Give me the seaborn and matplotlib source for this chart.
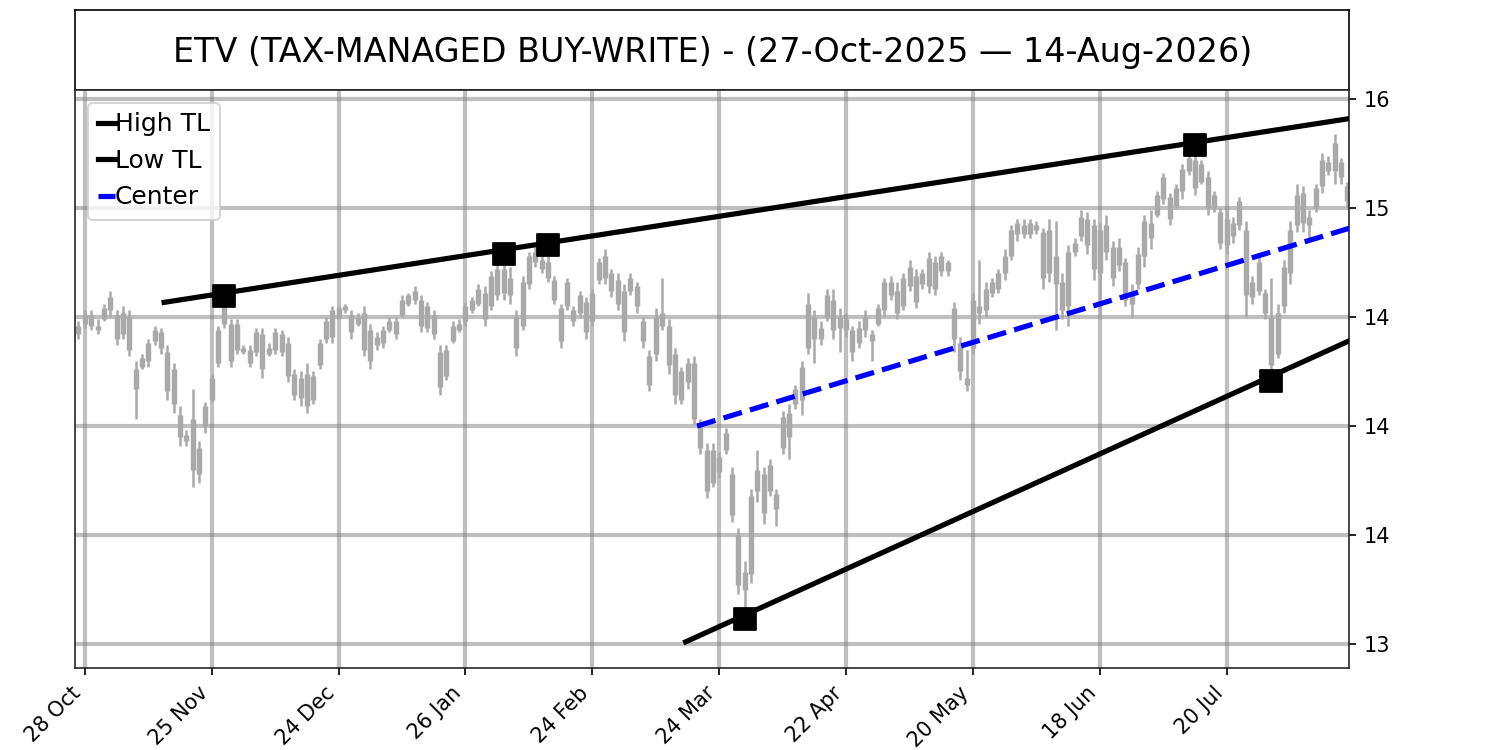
import numpy as np
import pandas as pd
import matplotlib
matplotlib.use("Agg")
import matplotlib.pyplot as plt
import seaborn as sns
from matplotlib.lines import Line2D

# Daily OHLC, 27-Oct-2025 .. 14-Aug-2026 (201 trading days)
opens = [
    14.42, 14.47, 14.51, 14.46, 14.49, 14.53, 14.51, 14.42, 14.50, 14.26,
    14.27, 14.30, 14.39, 14.43, 14.34, 14.26, 14.05, 13.96, 14.03, 13.78,
    14.00, 14.12, 14.29, 14.47, 14.47, 14.35, 14.36, 14.29, 14.34, 14.42,
    14.33, 14.35, 14.42, 14.38, 14.24, 14.13, 14.24, 14.12, 14.28, 14.40,
    14.41, 14.50, 14.53, 14.51, 14.47, 14.52, 14.30, 14.41, 14.38, 14.44,
    14.48, 14.51, 14.56, 14.58, 14.58, 14.45, 14.51, 14.34, 14.23, 14.39,
    14.44, 14.48, 14.53, 14.56, 14.61, 14.55, 14.60, 14.72, 14.68, 14.50,
    14.46, 14.65, 14.75, 14.76, 14.75, 14.67, 14.54, 14.55, 14.53, 14.52,
    14.57, 14.48, 14.67, 14.78, 14.70, 14.67, 14.62, 14.62, 14.64, 14.48,
    14.32, 14.33, 14.52, 14.46, 14.33, 14.12, 14.20, 14.29, 14.01, 13.89,
    13.74, 13.86, 13.89, 13.78, 13.50, 13.25, 13.32, 13.70, 13.78, 13.70,
    13.69, 13.90, 14.06, 14.10, 14.12, 14.36, 14.50, 14.45, 14.50, 14.58,
    14.45, 14.49, 14.44, 14.38, 14.44, 14.42, 14.47, 14.53, 14.66, 14.62,
    14.55, 14.64, 14.69, 14.65, 14.64, 14.75, 14.71, 14.75, 14.54, 14.38,
    14.22, 14.36, 14.55, 14.53, 14.61, 14.63, 14.70, 14.78, 14.88, 14.92,
    14.88, 14.92, 14.89, 14.70, 14.78, 14.66, 14.55, 14.80, 14.87, 14.95,
    14.92, 14.70, 14.92, 14.82, 14.74, 14.75, 14.56, 14.65, 14.78, 14.93,
    14.97, 15.04, 15.05, 15.01, 15.08, 15.17, 15.22, 15.12, 15.14, 15.00,
    14.98, 14.83, 14.93, 14.92, 14.90, 14.66, 14.62, 14.61, 14.50, 14.33,
    14.55, 14.70, 14.92, 15.07, 14.92, 15.00, 15.10, 15.21, 15.17, 15.21,
    15.10,
]
highs = [
    14.48, 14.53, 14.53, 14.49, 14.56, 14.62, 14.53, 14.55, 14.53, 14.30,
    14.33, 14.40, 14.46, 14.45, 14.37, 14.29, 14.09, 13.98, 14.17, 13.93,
    14.11, 14.24, 14.46, 14.59, 14.49, 14.49, 14.37, 14.37, 14.45, 14.45,
    14.38, 14.45, 14.44, 14.41, 14.26, 14.25, 14.29, 14.25, 14.40, 14.50,
    14.55, 14.55, 14.56, 14.53, 14.52, 14.55, 14.47, 14.43, 14.46, 14.50,
    14.50, 14.60, 14.61, 14.64, 14.60, 14.57, 14.53, 14.37, 14.37, 14.48,
    14.49, 14.57, 14.59, 14.65, 14.64, 14.71, 14.75, 14.79, 14.73, 14.53,
    14.69, 14.80, 14.82, 14.78, 14.83, 14.69, 14.56, 14.68, 14.55, 14.62,
    14.59, 14.63, 14.77, 14.81, 14.72, 14.70, 14.65, 14.70, 14.66, 14.50,
    14.35, 14.54, 14.68, 14.49, 14.36, 14.27, 14.31, 14.32, 14.03, 13.92,
    13.92, 13.88, 13.99, 13.81, 13.53, 13.38, 13.71, 13.89, 13.81, 13.85,
    13.71, 14.07, 14.10, 14.19, 14.30, 14.61, 14.53, 14.48, 14.63, 14.63,
    14.54, 14.52, 14.46, 14.48, 14.53, 14.44, 14.56, 14.68, 14.69, 14.66,
    14.70, 14.76, 14.72, 14.72, 14.80, 14.78, 14.80, 14.76, 14.57, 14.41,
    14.35, 14.61, 14.76, 14.66, 14.68, 14.72, 14.81, 14.92, 14.95, 14.95,
    14.95, 14.94, 14.91, 14.95, 14.94, 14.70, 14.83, 14.86, 14.99, 14.98,
    14.95, 14.93, 14.97, 14.85, 14.86, 14.77, 14.65, 14.82, 14.97, 14.99,
    15.08, 15.16, 15.07, 15.11, 15.20, 15.25, 15.29, 15.22, 15.17, 15.08,
    15.00, 14.99, 14.96, 15.05, 14.94, 14.69, 14.79, 14.63, 14.68, 14.56,
    14.76, 14.94, 15.11, 15.10, 14.99, 15.11, 15.25, 15.24, 15.34, 15.23,
    15.12,
]
lows = [
    14.40, 14.45, 14.44, 14.42, 14.48, 14.50, 14.37, 14.40, 14.32, 14.03,
    14.26, 14.27, 14.37, 14.33, 14.12, 14.06, 13.91, 13.91, 13.72, 13.74,
    13.97, 14.11, 14.27, 14.45, 14.27, 14.33, 14.33, 14.27, 14.32, 14.22,
    14.32, 14.33, 14.32, 14.20, 14.12, 14.09, 14.06, 14.10, 14.26, 14.38,
    14.38, 14.49, 14.52, 14.40, 14.46, 14.32, 14.26, 14.35, 14.36, 14.43,
    14.40, 14.50, 14.55, 14.56, 14.43, 14.43, 14.40, 14.14, 14.21, 14.38,
    14.43, 14.46, 14.52, 14.55, 14.46, 14.53, 14.58, 14.58, 14.56, 14.32,
    14.44, 14.63, 14.73, 14.70, 14.66, 14.56, 14.36, 14.53, 14.46, 14.50,
    14.40, 14.46, 14.65, 14.65, 14.59, 14.53, 14.39, 14.60, 14.52, 14.36,
    14.16, 14.30, 14.44, 14.24, 14.10, 14.10, 14.17, 14.01, 13.87, 13.67,
    13.72, 13.76, 13.87, 13.56, 13.23, 13.115, 13.28, 13.65, 13.55, 13.68,
    13.54, 13.87, 13.85, 14.08, 14.05, 14.33, 14.29, 14.37, 14.48, 14.40,
    14.34, 14.41, 14.30, 14.36, 14.41, 14.30, 14.46, 14.50, 14.58, 14.49,
    14.53, 14.62, 14.54, 14.63, 14.61, 14.60, 14.69, 14.69, 14.34, 14.21,
    14.16, 14.33, 14.47, 14.50, 14.59, 14.61, 14.67, 14.76, 14.85, 14.86,
    14.86, 14.88, 14.63, 14.66, 14.44, 14.49, 14.46, 14.78, 14.85, 14.79,
    14.67, 14.49, 14.76, 14.64, 14.71, 14.55, 14.50, 14.63, 14.73, 14.81,
    14.96, 15.02, 14.92, 15.00, 15.04, 15.15, 15.06, 15.11, 14.97, 14.98,
    14.81, 14.79, 14.84, 14.90, 14.50, 14.56, 14.60, 14.49, 14.206, 14.31,
    14.52, 14.65, 14.89, 14.89, 14.85, 14.98, 15.07, 15.15, 15.11, 15.11,
    15.00,
]
closes = [
    14.46, 14.51, 14.46, 14.44, 14.54, 14.59, 14.40, 14.52, 14.35, 14.17,
    14.31, 14.38, 14.44, 14.36, 14.16, 14.10, 13.95, 13.93, 13.80, 13.90,
    14.09, 14.22, 14.44, 14.55, 14.30, 14.47, 14.34, 14.35, 14.43, 14.26,
    14.36, 14.43, 14.34, 14.23, 14.14, 14.22, 14.09, 14.23, 14.38, 14.48,
    14.53, 14.54, 14.55, 14.43, 14.50, 14.35, 14.44, 14.37, 14.44, 14.48,
    14.42, 14.58, 14.60, 14.62, 14.46, 14.55, 14.42, 14.18, 14.35, 14.46,
    14.47, 14.55, 14.58, 14.63, 14.49, 14.69, 14.72, 14.61, 14.60, 14.36,
    14.66, 14.78, 14.80, 14.72, 14.68, 14.58, 14.39, 14.66, 14.48, 14.60,
    14.43, 14.61, 14.75, 14.68, 14.62, 14.56, 14.43, 14.68, 14.55, 14.39,
    14.19, 14.50, 14.46, 14.28, 14.14, 14.25, 14.29, 14.03, 13.90, 13.70,
    13.89, 13.79, 13.97, 13.59, 13.27, 13.33, 13.68, 13.80, 13.60, 13.82,
    13.62, 14.04, 13.95, 14.17, 14.27, 14.56, 14.40, 14.40, 14.60, 14.44,
    14.50, 14.44, 14.34, 14.45, 14.50, 14.39, 14.54, 14.66, 14.60, 14.52,
    14.68, 14.73, 14.57, 14.70, 14.77, 14.63, 14.78, 14.71, 14.40, 14.25,
    14.19, 14.58, 14.52, 14.63, 14.66, 14.70, 14.78, 14.90, 14.93, 14.88,
    14.93, 14.90, 14.68, 14.90, 14.65, 14.53, 14.80, 14.84, 14.96, 14.83,
    14.72, 14.90, 14.80, 14.68, 14.82, 14.58, 14.60, 14.79, 14.94, 14.86,
    15.06, 15.14, 14.95, 15.09, 15.18, 15.23, 15.09, 15.20, 15.00, 15.06,
    14.84, 14.95, 14.87, 15.03, 14.60, 14.59, 14.75, 14.52, 14.28, 14.52,
    14.73, 14.90, 15.06, 14.93, 14.96, 15.09, 15.22, 15.17, 15.30, 15.14,
    15.03,
]

# x tick labels every 20 sessions
tick_bars = [1, 21, 41, 61, 81, 101, 121, 141, 161, 181]
tick_labels = ["28 Oct", "25 Nov", "24 Dec", "26 Jan", "24 Feb",
               "24 Mar", "22 Apr", "20 May", "18 Jun", "20 Jul"]
y_ticks = [13.0, 13.5, 14.0, 14.5, 15.0, 15.5]
y_tick_labels = ["13", "14", "14", "14", "15", "16"]

# trend lines (bar index, price)
high_tl_x = [13.5, 201]
high_tl_y = [14.567, 15.413]
low_tl_x = [95.7, 201]
low_tl_y = [13.01, 14.40]
center_x = [97.5, 201]
center_y = [14.0, 14.913]

# pivot points
pivot_x = [23, 67, 74, 176, 105, 188]
pivot_y = [14.594, 14.79, 14.83, 15.29, 13.115, 14.206]

title = "ETV (TAX-MANAGED BUY-WRITE) - (27-Oct-2025 \u2014 14-Aug-2026)"

df = pd.DataFrame({"open": opens, "high": highs, "low": lows, "close": closes})
df["idx"] = np.arange(len(df))

fig = plt.figure(figsize=(10, 5), dpi=150)
ax_t = fig.add_axes([0.05, 0.88, 0.8495, 0.1067])
ax = fig.add_axes([0.05, 0.1093, 0.8495, 0.7707])

# title box
ax_t.set_xticks([])
ax_t.set_yticks([])
for s in ax_t.spines.values():
    s.set_color("black")
ax_t.text(0.5, 0.47, title, ha="center", va="center", fontsize=16,
          transform=ax_t.transAxes)

# candles
ax.vlines(df["idx"], df["low"], df["high"], color="darkgray", lw=1.2, zorder=2)
ax.vlines(df["idx"], df["open"], df["close"], color="darkgray", lw=2.6, zorder=2)

# trend lines
sns.lineplot(x=high_tl_x, y=high_tl_y, color="black", lw=2.5, ax=ax, zorder=3)
sns.lineplot(x=low_tl_x, y=low_tl_y, color="black", lw=2.5, ax=ax, zorder=3)
sns.lineplot(x=center_x, y=center_y, color="blue", lw=2.5, ls="--", ax=ax, zorder=3)
sns.scatterplot(x=pivot_x, y=pivot_y, marker="s", s=110, color="black",
                edgecolor="black", ax=ax, zorder=4)

ax.set_xlim(-0.55, 200.3)
ax.set_ylim(12.89, 15.541)
ax.grid(True, color="gray", alpha=0.5, lw=2)
ax.set_axisbelow(True)

ax.set_xticks(tick_bars)
ax.set_xticklabels(tick_labels, rotation=45, ha="right", fontsize=10)
ax.yaxis.tick_right()
ax.set_yticks(y_ticks)
ax.set_yticklabels(y_tick_labels, fontsize=10)
for s in ax.spines.values():
    s.set_color(".15")

handles = [Line2D([], [], color="black", lw=2.5),
           Line2D([], [], color="black", lw=2.5),
           Line2D([], [], color="blue", lw=2.5, ls="--")]
ax.legend(handles, ["High TL", "Low TL", "Center"], loc="upper left",
          fontsize=12, handlelength=0.7, handletextpad=0.0)

fig.savefig("out.png", dpi=150)
